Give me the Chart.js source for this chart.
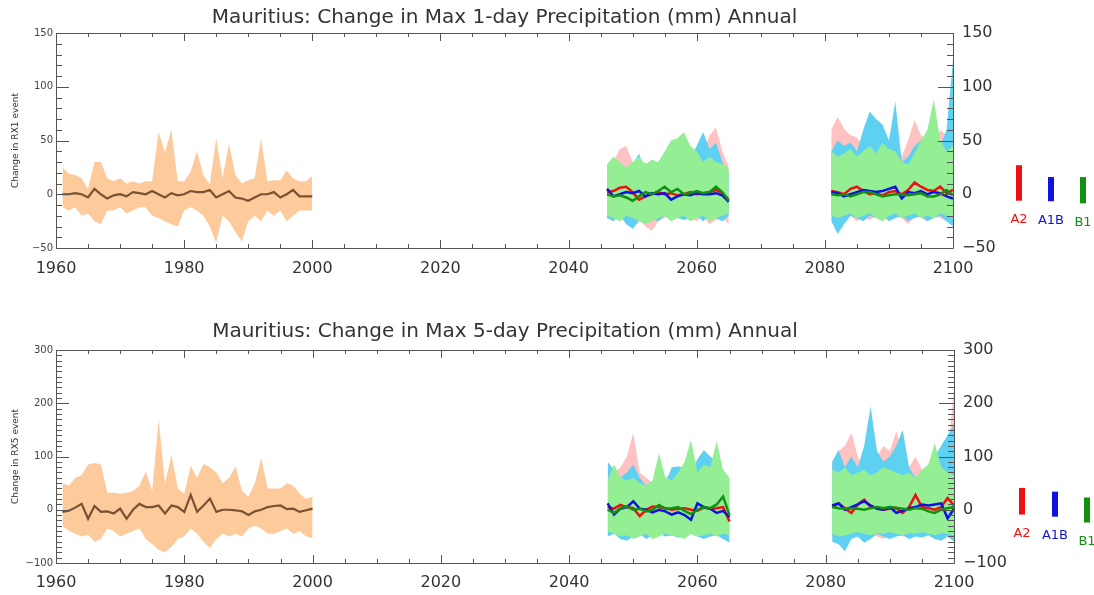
<!DOCTYPE html>
<html><head><meta charset="utf-8">
<script src="https://cdn.jsdelivr.net/npm/chart.js@4.4.1/dist/chart.umd.min.js"></script>
<style>
html,body{margin:0;padding:0;background:#fff;}
#wrap{position:relative;width:1094px;height:595px;overflow:hidden;}
canvas{position:absolute;left:0;}
</style></head><body>
<div id="wrap">
<canvas id="c1" width="1094" height="297" style="top:0px"></canvas>
<canvas id="c2" width="1094" height="298" style="top:297px"></canvas>
</div>
<script>
// ---------- categories ----------
const yearsObs = [1961,1962,1963,1964,1965,1966,1967,1968,1969,1970,1971,1972,1973,1974,1975,1976,1977,1978,1979,1980,
                  1981,1982,1983,1984,1985,1986,1987,1988,1989,1990,1991,1992,1993,1994,1995,1996,1997,1998,1999,2000];
const yearsP1 = [2046,2047,2048,2049,2050,2051,2052,2053,2054,2055,2056,2057,2058,2059,2060,2061,2062,2063,2064,2065];
const yearsP2 = [2081,2082,2083,2084,2085,2086,2087,2088,2089,2090,2091,2092,2093,2094,2095,2096,2097,2098,2099,2100];
const scenarioNames = ['A2','A1B','B1'];
const xTickYears = [1960,1980,2000,2020,2040,2060,2080,2100];

// ---------- RX1 (max 1-day) ----------
const rx1ObsMed = [0,0,1,0,-3,5,0,-4,-1,0,-2,2,1,0,3,0,-3,1,-1,0,3,2,2,4,-3,0,3,-3,-4,-6,-3,0,0,2,-3,0,4,-2,-2,-2];
const rx1ObsHi  = [25,19,18,15,5,30,30,15,12,15,10,12,10,12,12,58,39,60,12,12,21,40,18,9,52,15,47,18,10,13,15,52,12,13,13,22,15,12,12,17];
const rx1ObsLo  = [-12,-15,-12,-20,-18,-25,-28,-15,-15,-12,-18,-15,-12,-12,-20,-22,-25,-28,-30,-15,-12,-15,-20,-30,-45,-20,-25,-35,-44,-25,-20,-25,-15,-20,-15,-25,-20,-15,-15,-15];

const rx1A2P1Hi  = [25,30,42,45,30,25,30,20,25,28,30,35,30,40,38,40,55,62,40,25];
const rx1A2P1Lo  = [-18,-20,-22,-20,-25,-22,-30,-34,-25,-22,-20,-18,-20,-22,-25,-20,-28,-24,-22,-28];
const rx1A2P1Med = [2,3,6,7,2,-5,-2,0,2,0,1,-1,0,2,0,1,2,4,1,-5];
const rx1A1BP1Hi  = [20,25,30,22,28,38,20,25,28,20,35,30,40,35,45,58,42,48,30,20];
const rx1A1BP1Lo  = [-22,-25,-20,-28,-32,-25,-20,-22,-25,-20,-18,-22,-24,-22,-20,-25,-20,-22,-25,-20];
const rx1A1BP1Med = [5,-2,0,2,1,3,-2,1,0,1,-5,-2,0,-1,1,0,0,1,-1,-7];
const rx1B1P1Hi  = [28,35,30,25,30,35,28,32,30,40,50,52,58,45,40,30,35,30,28,25];
const rx1B1P1Lo  = [-20,-22,-25,-20,-22,-25,-28,-25,-22,-20,-25,-22,-20,-25,-22,-20,-25,-22,-20,-18];
const rx1B1P1Med = [0,-2,-1,-3,-6,-2,2,0,3,7,2,5,0,1,3,1,2,7,2,-6];

const rx1A2P2Hi  = [60,72,61,55,53,45,50,40,45,50,55,35,50,69,55,50,45,60,55,95];
const rx1A2P2Lo  = [-20,-25,-22,-20,-25,-22,-24,-20,-22,-25,-20,-22,-28,-20,-22,-25,-20,-22,-25,-28];
const rx1A2P2Med = [3,2,0,5,7,3,0,1,-1,2,3,0,4,11,7,4,3,7,1,4];
const rx1A1BP2Hi  = [40,50,45,48,40,60,77,70,65,50,86,30,35,45,50,40,55,45,60,125];
const rx1A1BP2Lo  = [-25,-37,-28,-20,-22,-25,-20,-22,-18,-25,-22,-20,-25,-22,-20,-25,-22,-20,-25,-30];
const rx1A1BP2Med = [2,1,-2,0,2,4,3,2,3,5,7,-4,2,1,3,0,2,1,-2,-4];
const rx1B1P2Hi  = [40,35,38,42,35,40,45,38,48,42,40,30,28,38,50,60,88,50,40,45];
const rx1B1P2Lo  = [-20,-22,-20,-18,-22,-20,-18,-22,-25,-20,-18,-22,-20,-18,-22,-20,-22,-18,-20,-22];
const rx1B1P2Med = [0,-1,0,-2,0,2,2,0,-2,-1,0,0,-1,0,1,-2,-2,0,4,-1];
const rx1LegendRanges = [[-6,27],[-6.5,16],[-8.5,16]];

// ---------- RX5 (max 5-day) ----------
const rx5ObsMed = [-4,-2,4,11,-17,7,-4,-3,-7,2,-17,0,11,5,5,8,-7,8,5,-4,28,-4,8,21,-4,0,0,-1,-3,-10,-3,0,5,7,8,1,2,-4,-1,2];
const rx5ObsHi  = [50,45,60,65,85,88,85,32,32,30,32,35,45,72,35,170,50,103,40,30,82,60,86,80,70,50,60,82,35,25,50,97,40,40,40,50,45,30,20,25];
const rx5ObsLo  = [-30,-40,-45,-50,-47,-60,-55,-35,-40,-50,-45,-40,-35,-55,-65,-75,-80,-70,-55,-50,-35,-45,-60,-72,-55,-45,-50,-45,-50,-35,-30,-35,-45,-45,-40,-35,-45,-40,-50,-53];

const rx5A2P1Hi  = [60,70,80,100,144,70,60,50,55,60,70,60,80,90,85,100,95,85,70,60];
const rx5A2P1Lo  = [-45,-40,-45,-50,-45,-40,-45,-50,-48,-45,-50,-45,-40,-45,-48,-45,-50,-45,-48,-50];
const rx5A2P1Med = [5,2,9,5,3,-12,0,6,5,3,0,2,3,0,-2,4,2,3,5,-22];
const rx5A1BP1Hi  = [90,75,60,70,85,60,45,55,60,50,80,81,80,70,95,112,100,90,75,50];
const rx5A1BP1Lo  = [-50,-45,-55,-58,-50,-45,-55,-48,-45,-50,-48,-52,-50,-45,-50,-55,-50,-48,-55,-62];
const rx5A1BP1Med = [12,-9,2,5,16,2,0,-5,0,-3,-9,-5,-10,-19,12,5,2,-6,-2,-14];
const rx5B1P1Hi  = [55,85,60,55,60,50,45,55,106,60,55,70,90,131,70,85,80,128,75,60];
const rx5B1P1Lo  = [-40,-45,-50,-48,-55,-50,-45,-55,-50,-45,-48,-50,-55,-45,-50,-48,-45,-50,-45,-48];
const rx5B1P1Med = [0,-6,3,6,0,2,-3,0,9,2,3,5,-2,-8,0,5,3,10,25,-10];

const rx5A2P2Hi  = [90,110,120,144,100,80,90,100,120,110,147,110,80,100,75,70,80,90,100,230];
const rx5A2P2Lo  = [-50,-55,-50,-45,-50,-48,-45,-50,-55,-48,-45,-50,-48,-45,-50,-45,-48,-50,-45,-55];
const rx5A2P2Med = [5,12,3,-6,10,19,5,3,0,2,3,-6,5,28,5,3,0,5,22,8];
const rx5A1BP2Hi  = [90,112,80,100,80,120,194,110,90,100,120,150,80,60,70,80,100,120,140,160];
const rx5A1BP2Lo  = [-60,-65,-78,-55,-50,-62,-55,-45,-50,-55,-50,-48,-55,-50,-52,-48,-55,-58,-50,-60];
const rx5A1BP2Med = [8,12,0,5,10,16,8,2,0,5,-6,-2,3,5,10,8,10,12,-16,2];
const rx5B1P2Hi  = [75,70,80,65,70,75,65,70,80,75,70,65,70,60,75,85,125,80,70,65];
const rx5B1P2Lo  = [-45,-50,-48,-45,-42,-45,-48,-44,-45,-42,-45,-48,-44,-45,-42,-45,-48,-44,-45,-48];
const rx5B1P2Med = [5,3,2,3,2,0,3,5,3,5,4,2,0,3,2,-3,-6,0,3,5];
const rx5LegendRanges = [[-9,41],[-13,34],[-24,23]];

// ---------- styles ----------
const FONT = 'DejaVu Sans';
const C = {
  obsBand:'#fdca9c', obsLine:'#7a5232',
  A2band:'#ffc2c2', A1Bband:'#5ed0f2', B1band:'#94ee94',
  A2line:'#ee1010', A1Bline:'#1010e0', B1line:'#129012'
};
const scenColors = [C.A2line, C.A1Bline, C.B1line];

function pts(xs, ys){ return xs.map((x,i)=>({x:x, y:ys[i]})); }
function addBand(ds, xs, lo, hi, color, order){
  const li = ds.length;
  ds.push({data:pts(xs,lo), borderWidth:0, borderColor:'rgba(0,0,0,0)', pointRadius:0, fill:false, order:order, tension:0});
  ds.push({data:pts(xs,hi), borderWidth:0, borderColor:'rgba(0,0,0,0)', backgroundColor:color, pointRadius:0, fill:li, order:order, tension:0});
}
function addLine(ds, xs, v, color, order, w){
  ds.push({data:pts(xs,v), borderColor:color, borderWidth:w, pointRadius:0, fill:false, order:order, tension:0});
}

const minusFmt = v => (v < 0 ? '\u2212' + Math.abs(v) : String(v));

const idlAxes = {
  id:'idlAxes',
  afterDatasetsDraw(chart, args, o){
    const {ctx, chartArea:a} = chart;
    const x = chart.scales.x, y = chart.scales.y;
    ctx.save();
    ctx.strokeStyle = '#555'; ctx.lineWidth = 1;
    ctx.beginPath();
    ctx.rect(Math.round(a.left)+0.5, Math.round(a.top)+0.5, Math.round(a.right-a.left), Math.round(a.bottom-a.top));
    ctx.stroke();
    ctx.beginPath();
    for (let v = x.min; v <= x.max; v += o.xMinor){
      const px = Math.round(x.getPixelForValue(v))+0.5;
      const L = (v % o.xMajor === 0) ? 8 : 4;
      ctx.moveTo(px, a.bottom); ctx.lineTo(px, a.bottom-L);
      ctx.moveTo(px, a.top); ctx.lineTo(px, a.top+L);
    }
    for (let v = y.min; v <= y.max; v += o.yMinor){
      const py = Math.round(y.getPixelForValue(v))+0.5;
      const major = (v % o.yMajor === 0);
      ctx.moveTo(a.left, py); ctx.lineTo(a.left + (major?13:6), py);
      ctx.moveTo(a.right, py); ctx.lineTo(a.right - (major?15:6), py);
    }
    ctx.stroke();
    ctx.restore();
  }
};

const scenLegend = {
  id:'scenLegend',
  afterDraw(chart, args, o){
    const {ctx, chartArea:a} = chart;
    const y2 = chart.scales.y2;
    ctx.save();
    o.names.forEach((nm, i) => {
      const cx = a.right + o.offsets[i];
      const top = y2.getPixelForValue(o.ranges[i][1]);
      const bot = y2.getPixelForValue(o.ranges[i][0]);
      ctx.fillStyle = o.colors[i];
      ctx.fillRect(cx-3, top, 6, bot-top);
      ctx.font = '13px "' + FONT + '"';
      ctx.textAlign = 'center'; ctx.textBaseline = 'middle';
      ctx.fillText(nm, cx, bot + 19);
    });
    ctx.restore();
  }
};

function buildDatasets(d){
  const ds = [];
  addBand(ds, yearsObs, d.obsLo, d.obsHi, C.obsBand, 9);
  [[yearsP1, d.p1],[yearsP2, d.p2]].forEach(([xs, p]) => {
    addBand(ds, xs, p.A2[0], p.A2[1], C.A2band, 7);
    addBand(ds, xs, p.A1B[0], p.A1B[1], C.A1Bband, 6);
    addBand(ds, xs, p.B1[0], p.B1[1], C.B1band, 5);
    addLine(ds, xs, p.A2[2], C.A2line, 3, 2.5);
    addLine(ds, xs, p.A1B[2], C.A1Bline, 2, 2.5);
    addLine(ds, xs, p.B1[2], C.B1line, 1, 2.5);
  });
  addLine(ds, yearsObs, d.obsMed, C.obsLine, 0, 2.2);
  return ds;
}

function makeChart(id, d, cfg){
  return new Chart(document.getElementById(id), {
    type:'line',
    data:{datasets:buildDatasets(d)},
    options:{
      responsive:false, animation:false, events:[],
      layout:{padding:0},
      plugins:{
        legend:{display:false}, tooltip:{enabled:false},
        title:{display:true, fullSize:false, text:d.title, color:'#333', font:{family:FONT, size:20, weight:'normal'},
               padding:{top:cfg.tTop, bottom:cfg.tBot}},
        idlAxes:{xMinor:5, xMajor:20, yMinor:cfg.yMinor, yMajor:cfg.yMajor},
        scenLegend:{names:scenarioNames, colors:scenColors, ranges:d.legendRanges, offsets:cfg.legOff}
      },
      scales:{
        x:{type:'linear', min:xTickYears[0], max:xTickYears[xTickYears.length-1],
           afterBuildTicks: s => { s.ticks = xTickYears.map(v=>({value:v})); },
           ticks:{callback:v=>String(v), font:{family:FONT, size:16}, color:'#333', padding:cfg.xPad, maxRotation:0, autoSkip:false},
           grid:{display:false, drawTicks:false}, border:{display:false},
           afterFit: s => { s.height = cfg.xH; }},
        y:{type:'linear', position:'left', min:d.yMin, max:d.yMax,
           ticks:{stepSize:cfg.yMajor, callback:minusFmt, font:{family:FONT, size:10}, color:'#444', padding:3},
           grid:{display:false, drawTicks:false}, border:{display:false},
           title:{display:true, text:d.yTitle, color:'#333', font:{family:FONT, size:9}, padding:{top:10, bottom:0}},
           afterFit: s => { s.width = cfg.left; }},
        y2:{type:'linear', position:'right', min:d.yMin, max:d.yMax,
           ticks:{stepSize:cfg.yMajor, callback:minusFmt, font:{family:FONT, size:16}, color:'#333', padding:9},
           grid:{display:false, drawTicks:false}, border:{display:false},
           afterFit: s => { s.width = cfg.rightW; }}
      }
    },
    plugins:[idlAxes, scenLegend]
  });
}

makeChart('c1', {
  title:'Mauritius: Change in Max 1-day Precipitation (mm) Annual',
  yTitle:'Change in RX1 event', yMin:-50, yMax:150,
  obsMed:rx1ObsMed, obsHi:rx1ObsHi, obsLo:rx1ObsLo,
  p1:{A2:[rx1A2P1Lo,rx1A2P1Hi,rx1A2P1Med], A1B:[rx1A1BP1Lo,rx1A1BP1Hi,rx1A1BP1Med], B1:[rx1B1P1Lo,rx1B1P1Hi,rx1B1P1Med]},
  p2:{A2:[rx1A2P2Lo,rx1A2P2Hi,rx1A2P2Med], A1B:[rx1A1BP2Lo,rx1A1BP2Hi,rx1A1BP2Med], B1:[rx1B1P2Lo,rx1B1P2Hi,rx1B1P2Med]},
  legendRanges:rx1LegendRanges
}, {tTop:6, tBot:3, xH:49, xPad:11, yMinor:10, yMajor:50, left:56, rightW:141, legOff:[66,98,130]});

makeChart('c2', {
  title:'Mauritius: Change in Max 5-day Precipitation (mm) Annual',
  yTitle:'Change in RX5 event', yMin:-100, yMax:300,
  obsMed:rx5ObsMed, obsHi:rx5ObsHi, obsLo:rx5ObsLo,
  p1:{A2:[rx5A2P1Lo,rx5A2P1Hi,rx5A2P1Med], A1B:[rx5A1BP1Lo,rx5A1BP1Hi,rx5A1BP1Med], B1:[rx5B1P1Lo,rx5B1P1Hi,rx5B1P1Med]},
  p2:{A2:[rx5A2P2Lo,rx5A2P2Hi,rx5A2P2Med], A1B:[rx5A1BP2Lo,rx5A1BP2Hi,rx5A1BP2Med], B1:[rx5B1P2Lo,rx5B1P2Hi,rx5B1P2Med]},
  legendRanges:rx5LegendRanges
}, {tTop:23, tBot:6, xH:32, xPad:10, yMinor:10, yMajor:100, left:56, rightW:140, legOff:[68,101,133]});
</script>
</body></html>
